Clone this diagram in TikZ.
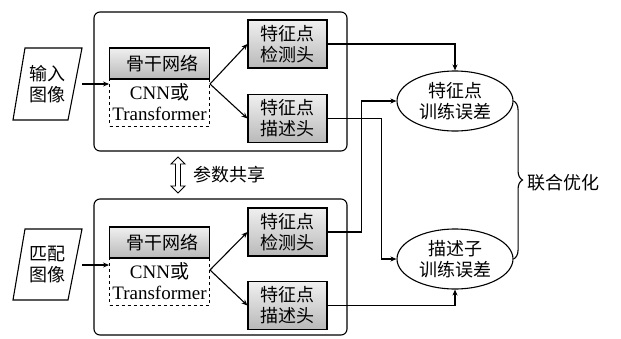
\documentclass[tikz,border=0pt]{standalone}
\usepackage{fontspec}
\setmainfont{Liberation Serif}
\newfontfamily\cjk{Noto Sans CJK SC}
\usetikzlibrary{arrows.meta,shapes.geometric,shapes.arrows,decorations.pathreplacing,calc}
\begin{document}
\begin{tikzpicture}[x=1pt,y=-1pt,
  lbl/.style={font=\fontsize{18}{21}\selectfont\cjk, align=center, inner sep=0pt},
  grayb/.style={draw, line width=1.1pt, top color=gray!12, bottom color=gray!55, font=\fontsize{18}{21}\selectfont\cjk, align=center, inner sep=0pt},
  head/.style={grayb, minimum width=79pt, minimum height=48pt},
  bone/.style={grayb, minimum width=100pt, minimum height=31pt},
  dbox/.style={draw, dashed, line width=0.9pt, minimum width=100pt, minimum height=47pt, align=center, inner sep=0pt, font=\fontsize{19}{21}\selectfont},
  outer/.style={draw, line width=1.1pt, rounded corners=6pt},
  para/.style={draw, line width=1.1pt},
  err/.style={draw, ellipse, line width=1.1pt, minimum width=116pt, minimum height=60pt, inner sep=0pt, font=\fontsize{18}{21}\selectfont\cjk, align=center},
  arr/.style={line width=1.1pt, -{Stealth[length=6pt,width=5pt]}},
  ln/.style={line width=1.1pt}
]
\useasboundingbox (0,0) rectangle (621,338);

% outer boxes
\draw[outer] (94,12) rectangle (347,151);
\draw[outer] (94,199) rectangle (347,335);

% input parallelograms
\draw[para] (25,48) -- (82,48) -- (68,120) -- (13,120) -- cycle;
\node[lbl] (in1) at (47.5,84) {输入\\图像};
\draw[para] (25,229) -- (82,229) -- (68,300) -- (13,300) -- cycle;
\node[lbl] (in2) at (47.5,264.5) {匹配\\图像};

% top branch
\node[bone] (bb1) at (159.5,63.5) {\hspace*{6pt}骨干网络};
\node[dbox] (cn1) at (159.5,102.5) {CNN{\cjk 或}\\Transformer};
\node[head] (d1) at (287.5,44) {特征点\\检测头};
\node[head] (p1) at (287.5,118.5) {特征点\\描述头};
\coordinate (a1) at (82,84);
\coordinate (s1) at (210,84);
\draw[arr] (a1) -- (a1 -| cn1.west);
\draw[arr] (s1) -- (d1.west);
\draw[arr] (s1) -- (p1.west);

% bottom branch
\node[bone] (bb2) at (159.5,242.5) {\hspace*{6pt}骨干网络};
\node[dbox] (cn2) at (159.5,281.5) {CNN{\cjk 或}\\Transformer};
\node[head] (d2) at (287.5,232) {特征点\\检测头};
\node[head] (p2) at (287.5,305.5) {特征点\\描述头};
\coordinate (a2) at (82,265);
\coordinate (s2) at (210,270);
\draw[arr] (a2) -- (a2 -| cn2.west);
\draw[arr] (s2) -- (d2.west);
\draw[arr] (s2) -- (p2.west);

% parameter sharing
\node[double arrow, draw, line width=0.9pt, rotate=90, minimum height=36pt, minimum width=14pt, inner sep=1.8pt, double arrow head extend=4pt] (sh) at (178,175) {};
\node[lbl, anchor=west] (sht) at (193,175) {参数共享};

% error ellipses
\node[err] (e1) at (455,101) {特征点\\训练误差};
\node[err] (e2) at (455,259) {描述子\\训练误差};

% connectors
\draw[arr] (d1.east) -| (e1.north);
\draw[arr] (p1.east) -- ++(54,0) |- (e2.west);
\draw[arr] (d2.east) -- ++(34,0) |- (e1.west);
\draw[arr] (p2.east) -| (e2.south);

% brace
\draw[ln, decorate, decoration={brace, amplitude=9pt, aspect=0.5}] (e1.east) -- (e2.east);
\node[lbl, anchor=west] (jo) at (527,183) {联合优化};
\end{tikzpicture}
\end{document}
